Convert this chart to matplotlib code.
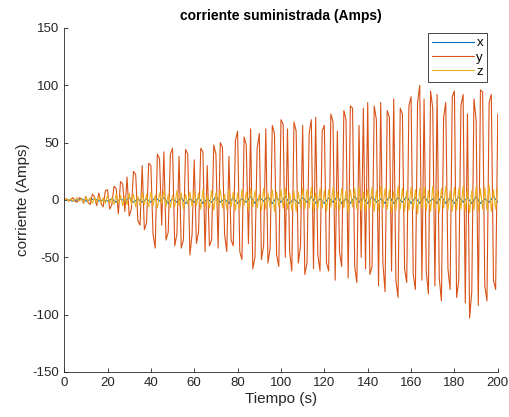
import numpy as np
import matplotlib
matplotlib.use("Agg")
import matplotlib.pyplot as plt

plt.rcParams['font.family'] = ['Liberation Sans', 'DejaVu Sans']
plt.rcParams['axes.unicode_minus'] = False

# corriente eje y (muestreo 1 s)
y_vals = [
    0, 1, -1, 0, 2, -1, -2, 2, 1, -3, 3, -2, -4, 5, 3, -5, 6, -3, -6, 8,
    9, -8, -4, 12, 10, -12, 16, 14, -10, 20, -14, -8, 25, 22, -18, -22, 30, -26, -20, 32,
    30, -30, -42, 40, 36, -22, 42, -35, -28, 40, 45, -40, -30, 38, -42, -35, 44, 40, -48, -30,
    35, -38, -28, 45, 42, -45, 30, -40, -35, 48, 40, -42, 50, 46, -30, -45, 38, -35, -40, 52,
    60, -45, -52, 55, 48, -38, 62, -60, -50, 45, 58, -52, -40, 62, -55, -42, 65, 58, -48, -58,
    70, 66, -50, 62, -45, -62, 68, 60, -55, -40, 65, -65, -55, 58, 70, -60, 72, -48, -62, 60,
    65, -55, -62, 75, 68, -70, 60, -45, -58, 78, 70, -68, 82, 80, -58, -72, 65, -50, 80, -60,
    85, -65, -58, 82, 70, -75, 85, -55, -80, 78, 72, -62, 88, -70, -85, 80, 75, -60, -72, 82,
    90, -65, -78, 85, 100, -70, 88, -62, -82, 95, 80, -75, 92, -68, -88, 72, 85, -60, -78, 90,
    95, -85, -70, 82, 92, -90, 75, -103, -80, 88, 70, -92, 96, 94, -75, -88, 85, 92, -70, -78, 75,
]

# corriente eje z (muestreo 1 s)
z_vals = [
    0, 1, -1, 1, -1, 0, 2, -1, 1, -2, 2, -1, 2, -3, 2, -2, 3, -3, 2, -3,
    4, -3, 2, -4, 5, -3, 4, -5, 3, -4, 6, -4, 5, -6, 3, -5, 6, -4, 5, -6,
    7, -5, 4, -7, 6, -3, 8, -6, 5, -7, 4, -6, 8, -5, 6, -8, 5, -4, 7, -6,
    8, -5, 6, -8, 9, -6, 4, -7, 8, -9, 6, -5, 9, -7, 5, -8, 9, -6, 7, -9,
    6, -8, 9, -5, 7, -9, 10, -6, 8, -7, 5, -9, 10, -8, 6, -7, 9, -10, 7, -6,
    9, -7, 10, -8, 6, -9, 8, -10, 7, -6, 10, -8, 9, -7, 11, -9, 6, -8, 10, -7,
    8, -10, 9, -6, 11, -8, 7, -9, 10, -7, 8, -11, 9, -6, 10, -8, 11, -9, 7, -10,
    9, -7, 11, -10, 8, -9, 12, -7, 10, -8, 9, -11, 7, -9, 12, -8, 10, -10, 8, -9,
    11, -8, 9, -12, 10, -7, 11, -9, 8, -10, 12, -8, 9, -11, 10, -7, 12, -9, 8, -10,
    11, -9, 10, -8, 12, -10, 9, -11, 8, -9, 12, -10, 10, -8, 11, -9, 13, -10, 9, -8, 10,
]

# corriente eje x (muestreo 2 s)
x_vals = [
    0, 0, -1, 0, 1, -1, 0, 1, -1, 0,
    -1, 1, -2, 1, -1, 2, -2, 1, -2, 1,
    -2, 2, -1, 2, -3, 1, -2, 2, -3, 1,
    -2, 2, -3, 1, -2, 3, -2, 1, -3, 2,
    -3, 1, -2, 3, -3, 2, -1, 3, -3, 2,
    -2, 3, -3, 1, -3, 2, -2, 3, -3, 1,
    -3, 2, -2, 3, -3, 1, -3, 3, -2, 2,
    -3, 3, -2, 1, -3, 3, -3, 2, -2, 3,
    -3, 2, -3, 3, -2, 1, -3, 3, -3, 2,
    -3, 3, -2, 2, -3, 3, -3, 1, -2, 3,
    -2,
]

t = np.arange(len(y_vals))
t_x = np.arange(len(x_vals)) * 2

fig = plt.figure(figsize=(5.09, 4.17), dpi=100)
ax = fig.add_axes([0.126, 0.108, 0.852, 0.825])
ax.plot(t_x, x_vals, color='#0072BD', lw=0.8, label='x')
ax.plot(t, y_vals, color='#D95319', lw=0.8, label='y')
ax.plot(t, z_vals, color='#EDB120', lw=0.8, label='z')

ax.set_xlim(0, 200)
ax.set_ylim(-150, 150)
ax.set_xticks(np.arange(0, 201, 20))
ax.set_yticks(np.arange(-150, 151, 50))
ax.spines['top'].set_visible(False)
ax.spines['right'].set_visible(False)
for s in ['left', 'bottom']:
    ax.spines[s].set_color('#262626')
    ax.spines[s].set_linewidth(0.6)
ax.tick_params(direction='in', length=3, width=0.6, colors='#262626', labelsize=9.5)
ax.set_title('corriente suministrada (Amps)', fontsize=10, fontweight='bold')
ax.set_xlabel('Tiempo (s)', fontsize=11, color='#262626', labelpad=2)
ax.set_ylabel('corriente (Amps)', fontsize=11, color='#262626', labelpad=2)
leg = ax.legend(loc='upper right', bbox_to_anchor=(0.975, 0.985), fontsize=9.5,
                handlelength=3.2, handletextpad=0.2, labelspacing=0.15,
                borderpad=0.3, fancybox=False, framealpha=1, borderaxespad=0)
leg.get_frame().set_edgecolor('#262626')
leg.get_frame().set_linewidth(0.6)

plt.savefig('out.png', dpi=100)
